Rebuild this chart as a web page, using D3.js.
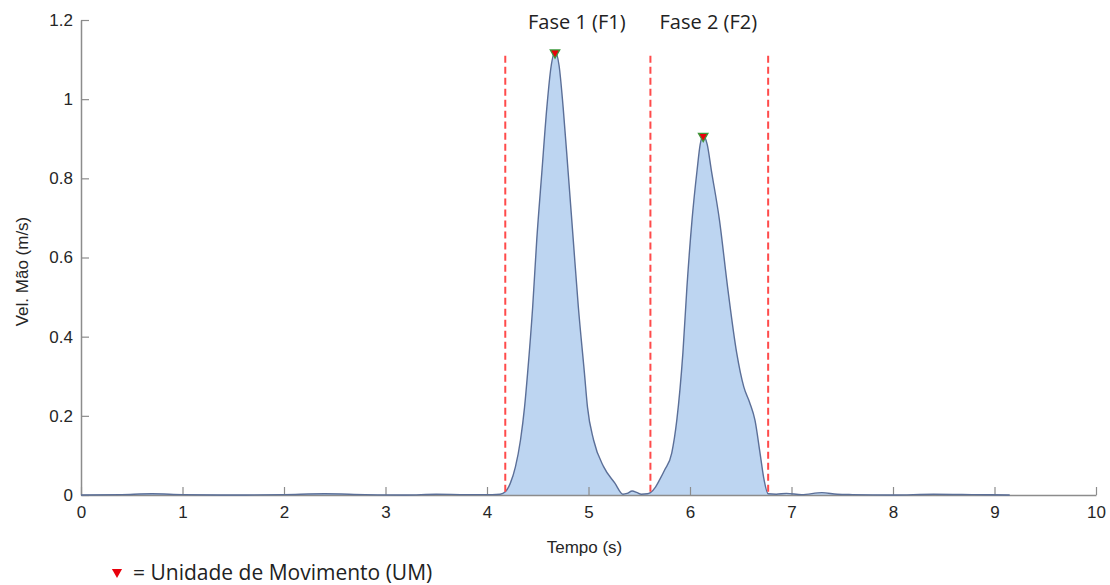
<!DOCTYPE html>
<html>
<head>
<meta charset="utf-8">
<title>Vel. Mão</title>
<script src="https://d3js.org/d3.v7.min.js"></script>
<style>
  body { margin: 0; background: #fff; }
  .tick text { font-family: "Liberation Sans", Arial, sans-serif; font-size: 17px; fill: #262626; }
  .axis-label { font-family: "Liberation Sans", Arial, sans-serif; font-size: 17px; fill: #262626; }
  .phase-label, .legend-text { font-family: "Open Sans", sans-serif; fill: #222; }
</style>
</head>
<body>
<svg id="chart" width="1110" height="585"></svg>
<script>
// hand velocity over time
var timeS = [0.00, 0.40, 0.70, 1.00, 1.50, 2.00, 2.40, 2.80, 3.20, 3.50, 3.80, 4.05, 4.13, 4.18, 4.23, 4.28, 4.33, 4.37, 4.40, 4.45,
  4.49, 4.54, 4.59, 4.63, 4.67, 4.71, 4.75, 4.80, 4.85, 4.90, 4.96, 4.99, 5.05, 5.15, 5.26, 5.34, 5.38, 5.43, 5.48, 5.52,
  5.58, 5.61, 5.66, 5.70, 5.75, 5.82, 5.87, 5.93, 5.97, 6.02, 6.07, 6.10, 6.13, 6.17, 6.21, 6.29, 6.37, 6.46, 6.53, 6.59,
  6.64, 6.69, 6.73, 6.77, 6.85, 6.95, 7.10, 7.30, 7.45, 7.60, 8.00, 8.40, 8.80, 9.15];
var velocity = [0.000, 0.001, 0.003, 0.001, 0.000, 0.001, 0.003, 0.001, 0.000, 0.002, 0.001, 0.001, 0.002, 0.008, 0.030, 0.071, 0.139, 0.222, 0.308, 0.475,
  0.644, 0.814, 0.980, 1.080, 1.120, 1.085, 0.980, 0.814, 0.644, 0.475, 0.308, 0.222, 0.139, 0.071, 0.030, 0.002, 0.004, 0.010, 0.006, 0.002,
  0.003, 0.006, 0.020, 0.038, 0.063, 0.106, 0.189, 0.359, 0.526, 0.695, 0.821, 0.885, 0.909, 0.885, 0.821, 0.695, 0.526, 0.359, 0.273, 0.232,
  0.189, 0.106, 0.038, 0.003, 0.002, 0.004, 0.001, 0.006, 0.002, 0.001, 0.000, 0.002, 0.001, 0.000];

// movement units (peaks)
var peakT = [4.67, 6.13];
var peakV = [1.12, 0.909];

// phase boundaries
var phaseLines = [4.18, 5.61, 6.77];
var phaseLineTop = 1.11;
var phaseNames = ["Fase 1 (F1)", "Fase 2 (F2)"];

var xTicks = [0, 1, 2, 3, 4, 5, 6, 7, 8, 9, 10];
var yTicks = [0, 0.2, 0.4, 0.6, 0.8, 1, 1.2];

var margin = { top: 20, right: 14, bottom: 90, left: 81 };
var width = 1110 - margin.left - margin.right;
var height = 585 - margin.top - margin.bottom;

var svg = d3.select("#chart");
var g = svg.append("g")
  .attr("transform", "translate(" + margin.left + "," + margin.top + ")");

var x = d3.scaleLinear().domain([0, 10]).range([0, width]);
var y = d3.scaleLinear().domain([0, 1.2]).range([height, 0]);

var data = timeS.map(function(t, i) { return { t: t, v: velocity[i] }; });

// filled area under the curve
var area = d3.area()
  .x(function(d) { return x(d.t); })
  .y0(y(0))
  .y1(function(d) { return y(d.v); })
  .curve(d3.curveMonotoneX);

g.append("path")
  .datum(data)
  .attr("d", area)
  .attr("fill", "#bdd5f1");

var line = d3.line()
  .x(function(d) { return x(d.t); })
  .y(function(d) { return y(d.v); })
  .curve(d3.curveMonotoneX);

// axes (ticks point inward like matlab)
var fmt = function(d) { return String(+d.toFixed(1)); };

var xAxis = g.append("g")
  .attr("transform", "translate(0," + height + ")")
  .call(d3.axisBottom(x).tickValues(xTicks).tickFormat(fmt).tickSizeInner(-8).tickSizeOuter(0).tickPadding(11));

var yAxis = g.append("g")
  .call(d3.axisLeft(y).tickValues(yTicks).tickFormat(fmt).tickSizeInner(-8).tickSizeOuter(0).tickPadding(8));

[xAxis, yAxis].forEach(function(a) {
  a.select(".domain").attr("stroke", "#8c8c8c").attr("stroke-width", 1.5);
  a.selectAll(".tick line").attr("stroke", "#8c8c8c").attr("stroke-width", 1.2);
  a.selectAll(".tick text").attr("fill", "#262626");
});

g.append("path")
  .datum(data)
  .attr("d", line)
  .attr("fill", "none")
  .attr("stroke", "#5b6f98")
  .attr("stroke-width", 1.4);

// phase boundaries
g.selectAll(".phase-line")
  .data(phaseLines)
  .enter()
  .append("line")
  .attr("class", "phase-line")
  .attr("x1", function(d) { return x(d); })
  .attr("x2", function(d) { return x(d); })
  .attr("y1", y(phaseLineTop))
  .attr("y2", y(0))
  .attr("stroke", "#ff4b4b")
  .attr("stroke-width", 2)
  .attr("stroke-dasharray", "7,4");

// phase labels, centred between boundaries
g.selectAll(".phase-label")
  .data(phaseNames)
  .enter()
  .append("text")
  .attr("class", "phase-label")
  .attr("x", function(d, i) { return (x(phaseLines[i]) + x(phaseLines[i + 1])) / 2 - 1; })
  .attr("y", 9)
  .attr("text-anchor", "middle")
  .attr("font-size", "20px")
  .text(function(d) { return d; });

// peak markers
var tri = d3.symbol().type(d3.symbolTriangle).size(40);
g.selectAll(".peak")
  .data(peakT)
  .enter()
  .append("path")
  .attr("class", "peak")
  .attr("d", tri)
  .attr("transform", function(d, i) { return "translate(" + x(d) + "," + (y(peakV[i]) + 1) + ") rotate(180)"; })
  .attr("fill", "#e8000b")
  .attr("stroke", "#3c9a3c")
  .attr("stroke-width", 1.2);

// axis labels
g.append("text")
  .attr("class", "axis-label")
  .attr("x", width / 2 - 4)
  .attr("y", height + 58)
  .attr("text-anchor", "middle")
  .text("Tempo (s)");

g.append("text")
  .attr("class", "axis-label")
  .attr("transform", "translate(" + (-53) + "," + (height / 2 + 14) + ") rotate(-90)")
  .attr("text-anchor", "middle")
  .text("Vel. Mão (m/s)");

// legend
svg.append("path")
  .attr("d", d3.symbol().type(d3.symbolTriangle).size(45))
  .attr("transform", "translate(117,572) rotate(180)")
  .attr("fill", "#e8000b");

svg.append("text")
  .attr("class", "legend-text")
  .attr("x", 133)
  .attr("y", 580)
  .attr("font-size", "21px")
  .text("= Unidade de Movimento (UM)");
</script>
</body>
</html>
